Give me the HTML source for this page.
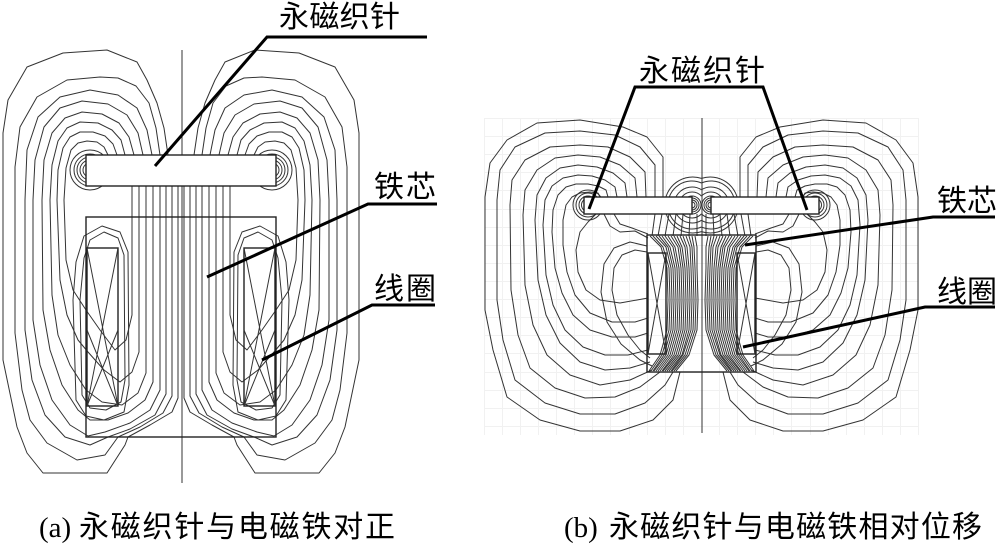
<!DOCTYPE html>
<html>
<head>
<meta charset="utf-8">
<style>
  html,body{margin:0;padding:0;background:#fff;}
  svg{display:block;}
  .f{fill:none;stroke:#333;stroke-width:1;stroke-linejoin:round;}
  .g{fill:none;stroke:#f1f1f1;stroke-width:1;}
  .o{fill:none;stroke:#222;stroke-width:1.4;}
  .bar{fill:#fff;stroke:#222;stroke-width:1.4;}
  .ld{fill:none;stroke:#000;stroke-width:3;stroke-linecap:butt;}
  .cj{font-family:"Liberation Sans","Noto Sans CJK SC",sans-serif;font-size:30px;fill:#000;}
  .sf{font-family:"Liberation Serif",serif;font-size:29px;fill:#000;}
</style>
</head>
<body>
<svg width="1000" height="548" viewBox="0 0 1000 548" xmlns="http://www.w3.org/2000/svg">
<rect x="0" y="0" width="1000" height="548" fill="#fff"/>

<!-- ============ Panel (b) grid ============ -->
<path class="g" d="
M484.5,118 V435 M502.5,118 V435 M520.5,118 V435 M538.5,118 V435 M556.5,118 V435 M574.5,118 V435 M592.5,118 V435 M610.5,118 V435 M629.5,118 V435 M647.5,118 V435 M665.5,118 V435 M683.5,118 V435
M719.5,118 V435 M737.5,118 V435 M755.5,118 V435 M773.5,118 V435 M791.5,118 V435 M810.5,118 V435 M828.5,118 V435 M846.5,118 V435 M864.5,118 V435 M882.5,118 V435 M900.5,118 V435 M918.5,118 V435
M484,118.5 H919 M484,136.5 H919 M484,154.5 H919 M484,172.5 H919 M484,190.5 H919 M484,209.5 H919 M484,227.5 H919 M484,245.5 H919 M484,263.5 H919 M484,281.5 H919 M484,299.5 H919 M484,317.5 H919 M484,335.5 H919 M484,353.5 H919 M484,372.5 H919 M484,390.5 H919 M484,408.5 H919 M484,426.5 H919"/>

<!-- ============ Panel (a) left half ============ -->
<g id="aL">
  <path class="f" d="M168,155 L164,128 157,103 147,80 137,62 107,50 63,53 27,67 8,100 3,133 3,360 17,427 27,453 43,473 107,473 125,445 128,437 150,425 172,412 178,398 178,186"/>
  <path class="f" d="M160,155 L156,128 149,103 136,86 118,78 100,77 67,80 37,97 20,127 15,167 15,333 22,390 30,420 47,443 77,460 105,455 118,437 140,427 163,413 172,396 172,186"/>
  <path class="f" d="M152,155 L147,130 137,108 118,95 90,90 60,97 38,117 27,150 25,200 25,330 32,380 45,415 65,437 90,445 108,437 130,429 155,415 166,394 166,186"/>
  <path class="f" d="M143,155 L138,133 127,115 108,104 82,101 60,108 44,127 35,160 33,200 33,320 40,365 52,400 70,425 88,436 105,432 130,423 150,410 160,390 160,186"/>
  <path class="f" d="M134,155 L129,137 119,123 102,114 82,112 65,118 52,133 44,160 42,200 43,310 50,350 62,385 78,410 90,420 108,420 128,413 145,400 153,382 153,186"/>
  <path class="f" d="M125,155 L121,140 112,130 98,123 80,122 67,128 58,141 52,165 50,200 52,295 58,335 70,365 86,390 102,402 122,405 138,393 146,373 146,186"/>
  <path class="f" d="M117,155 L113,144 105,136 93,132 80,132 70,137 63,148 58,170 57,200 60,280 67,315 78,340 88,352 104,370 120,382 132,372 139,352 139,186"/>
  <path class="f" d="M108,155 L104,147 97,142 87,141 78,143 71,150 66,168 64,200 66,260 73,290 86,310 100,330 115,350 126,340 132,315 132,186"/>
  <path class="f" d="M84,258 L90,240 104,232 118,238 124,255 125,380 121,402 106,410 90,408 82,395 80,300 Z"/>
  <path class="f" d="M76,262 L84,236 102,226 120,232 128,252 129,385 124,412 104,420 86,416 76,400 73,300 Z"/>
  <circle class="f" cx="90" cy="170" r="7"/>
  <circle class="f" cx="90" cy="170" r="10"/>
  <circle class="f" cx="90" cy="170" r="13"/>
  <circle class="f" cx="90" cy="170" r="16"/>
  <circle class="f" cx="90" cy="170" r="20"/>
  <!-- coil -->
  <rect class="o" x="87" y="248" width="31" height="158"/>
  <path class="f" d="M87,248 L118,406 M118,248 L87,406 M87,330 L118,406 M118,330 L87,406"/>
</g>
<use href="#aL" transform="matrix(-1 0 0 1 362 0)"/>

<!-- core & bar (a) -->
<line x1="182" y1="50" x2="182" y2="483" stroke="#333" stroke-width="1"/>
<rect class="o" x="86" y="217" width="190" height="220"/>
<rect class="bar" x="86" y="155" width="190" height="31"/>

<!-- ============ Panel (b) left half ============ -->
<g id="bL">
  <path class="f" d="M663,197 L663,157 647,137 623,127 580,120 537,123 507,140 490,163 485,197 485,310 493,350 507,397 540,420 580,431 620,431 653,420 673,400 680,372"/>
  <path class="f" d="M655,197 L655,165 640,147 615,135 580,131 545,133 515,147 500,170 497,200 497,300 503,340 515,380 545,403 580,414 615,414 645,403 665,385 673,372"/>
  <path class="f" d="M646,197 L645,172 630,157 608,147 580,145 550,147 525,160 512,180 510,205 511,290 518,335 530,368 555,388 585,398 615,397 640,387 660,372"/>
  <path class="f" d="M637,197 L635,178 620,165 600,157 578,155 555,158 537,170 525,190 523,215 525,285 533,325 547,355 570,375 600,385 630,380 652,370"/>
  <path class="f" d="M627,197 L625,183 613,173 597,167 578,165 560,168 546,178 537,195 535,220 538,280 546,315 560,343 580,362 605,370 630,368 650,362"/>
  <path class="f" d="M617,197 L615,187 605,180 592,176 578,175 563,178 552,186 545,200 543,225 546,275 553,305 565,330 583,347 605,355 628,355 648,350"/>
  <path class="f" d="M608,197 L606,190 598,186 588,184 576,184 566,187 558,195 553,210 552,232 555,268 562,293 573,315 590,330 612,337 635,337 648,333"/>
  <path class="f" d="M600,197 L598,193 590,192 580,193 572,197 566,205 563,220 563,245 567,272 575,295 590,313 612,322 635,322 648,318"/>
  <path class="f" d="M596,214 L588,222 580,232 576,250 578,272 586,290 600,300 620,303 648,298"/>
  <path class="f" d="M647,252 L635,250 622,255 614,268 612,290 617,315 628,335 640,350 650,358"/>
  <path class="f" d="M647,246 L630,242 614,248 604,264 601,292 607,322 621,344 640,360 652,366"/>
  <path class="f" d="M604,214 L610,226 620,232 635,231 648,238"/>
  <path class="f" d="M614,214 L620,224 632,228 648,234"/>
  <!-- tip rings -->
  <circle class="f" cx="588" cy="205" r="4"/>
  <circle class="f" cx="588" cy="205" r="6.5"/>
  <circle class="f" cx="588" cy="205" r="9"/>
  <circle class="f" cx="588" cy="205" r="12"/>
  <circle class="f" cx="588" cy="205" r="15"/>
  <!-- gap rings -->
  <circle class="f" cx="692" cy="205" r="3"/>
  <circle class="f" cx="692" cy="205" r="5"/>
  <circle class="f" cx="692" cy="205" r="7"/>
  <circle class="f" cx="692" cy="205" r="9"/>
  <path class="f" d="M701.5,196.1 A13,13 0 1,0 701.5,213.9"/>
  <path class="f" d="M701.5,189.7 A18,18 0 1,0 701.5,220.3"/>
  <path class="f" d="M701.5,183 A24,24 0 1,0 701.5,227"/>
  <path class="f" d="M701.5,178.4 A28,28 0 1,0 701.5,231.6"/>
  <!-- connectors bar bottom to core top -->
  <path class="f" d="M655,214 L652,236 M662,214 L658,236 M669,214 L665,236 M676,214 L673,236 M683,214 L681,236 M690,214 L689,236 M697,214 L697,236"/>
  <!-- dense bundle in core -->
  <path class="f" d="M650,236 L661,247 667,268 668,300 667,330 660,355 649,371"/>
  <path class="f" d="M653,236 L663,247 669,268 670,300 669,330 662,355 651,371"/>
  <path class="f" d="M656,236 L666,247 671,268 672,300 671,330 664,355 653,371"/>
  <path class="f" d="M659,236 L668,247 673,268 674,300 673,330 666,355 654,371"/>
  <path class="f" d="M662,236 L670,247 675,268 676,300 675,330 668,355 656,371"/>
  <path class="f" d="M665,236 L673,247 677,268 678,300 677,330 670,355 658,371"/>
  <path class="f" d="M668,236 L675,247 679,268 680,300 679,330 672,355 660,371"/>
  <path class="f" d="M671,236 L678,247 681,268 682,300 681,330 674,355 662,371"/>
  <path class="f" d="M674,236 L680,247 683,268 684,300 683,330 676,355 663,371"/>
  <path class="f" d="M677,236 L682,247 685,268 686,300 685,330 678,355 665,371"/>
  <path class="f" d="M680,236 L685,247 687,268 688,300 687,330 680,355 667,371"/>
  <path class="f" d="M683,236 L687,247 689,268 690,300 689,330 682,355 669,371"/>
  <path class="f" d="M686,236 L690,247 691,268 692,300 691,330 683,355 671,371"/>
  <path class="f" d="M689,236 L692,247 693,268 694,300 693,330 685,355 672,371"/>
  <path class="f" d="M692,236 L694,247 695,268 696,300 695,330 687,355 674,371"/>
  <path class="f" d="M695,236 L697,247 697,268 698,300 697,330 689,355 676,371"/>
  <!-- coil -->
  <rect class="o" x="648" y="253" width="18" height="101"/>
  <path class="f" d="M648,253 L666,354 M666,253 L648,354"/>
</g>
<use href="#bL" transform="matrix(-1 0 0 1 1403 0)"/>

<!-- core & bars (b) -->
<line x1="702" y1="118" x2="702" y2="433" stroke="#333" stroke-width="1"/>
<rect class="o" x="647" y="235" width="109" height="137"/>
<rect class="bar" x="584" y="197" width="108" height="17"/>
<rect class="bar" x="711" y="197" width="108" height="17"/>

<!-- ============ Leaders ============ -->
<path class="ld" d="M155,166 L267,37 L427,37"/>
<path class="ld" d="M207,277 L368,204 L437,204"/>
<path class="ld" d="M262,360 L372,305 L435,305"/>

<path class="ld" d="M589,209 L635,87 L763,87 L807,210"/>
<path class="ld" d="M745,245 L933,217 L995,217"/>
<path class="ld" d="M743,347 L925,307 L995,307"/>

<!-- ============ Labels ============ -->
<text class="cj" x="279" y="27" textLength="121" lengthAdjust="spacing">永磁织针</text>
<text class="cj" x="374" y="197" textLength="62" lengthAdjust="spacing">铁芯</text>
<text class="cj" x="374" y="299" textLength="62" lengthAdjust="spacing">线圈</text>

<text class="cj" x="639" y="81" textLength="126" lengthAdjust="spacing">永磁织针</text>
<text class="cj" x="937" y="211" textLength="60" lengthAdjust="spacing">铁芯</text>
<text class="cj" x="937" y="302" textLength="60" lengthAdjust="spacing">线圈</text>

<!-- captions -->
<text class="sf" x="39" y="537">(a)</text>
<text class="cj" x="79" y="537" textLength="316" lengthAdjust="spacing">永磁织针与电磁铁对正</text>
<text class="sf" x="564" y="537">(b)</text>
<text class="cj" x="609" y="537" textLength="373" lengthAdjust="spacing">永磁织针与电磁铁相对位移</text>
</svg>
</body>
</html>
